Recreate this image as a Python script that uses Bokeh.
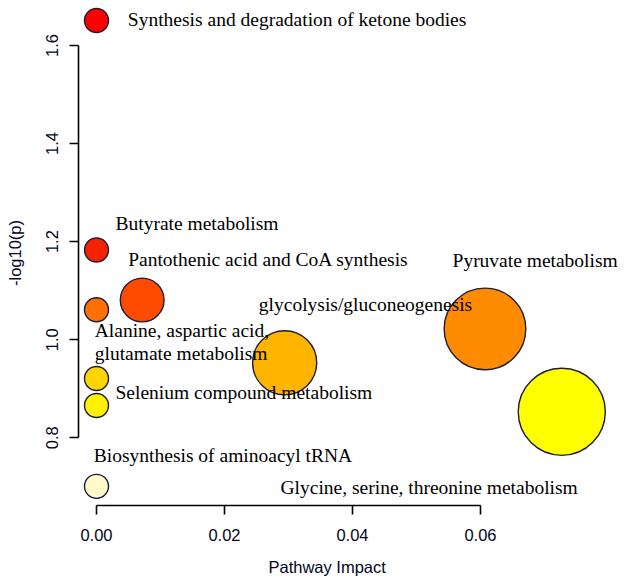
import math
from bokeh.plotting import figure
from bokeh.models import Range1d, FixedTicker, NumeralTickFormatter, ColumnDataSource, Title
from bokeh.core.properties import value
from bokeh.embed import file_html
from bokeh.resources import INLINE

# ---- data ----
pathways = [
    "Synthesis and degradation of ketone bodies",
    "Butyrate metabolism",
    "Pantothenic acid and CoA synthesis",
    "Alanine, aspartic acid and glutamate metabolism",
    "Pyruvate metabolism",
    "Glycolysis/Gluconeogenesis",
    "Unlabelled pathway",
    "Selenium compound metabolism",
    "Glycine, serine and threonine metabolism",
    "Aminoacyl-tRNA biosynthesis",
]
impact = [0.0, 0.0, 0.00714, 0.0, 0.0607, 0.0294, 0.0, 0.0, 0.0727, 0.0]
neg_log10_p = [1.651, 1.183, 1.081, 1.061, 1.022, 0.953, 0.921, 0.866, 0.853, 0.701]

# text labels as printed on the chart, with their anchor in data units
label_text = [
    "Synthesis and degradation of ketone bodies",
    "Butyrate metabolism",
    "Pantothenic acid and CoA synthesis",
    "Pyruvate metabolism",
    "glycolysis/gluconeogenesis",
    "Alanine, aspartic acid,\nglutamate metabolism",
    "Selenium compound metabolism",
    "Biosynthesis of aminoacyl tRNA",
    "Glycine, serine, threonine metabolism",
]
label_x = [0.00490, 0.00297, 0.00495, 0.05563, 0.02536, -0.00027, 0.00297, -0.00042, 0.02875]
label_y = [1.653, 1.2376, 1.163, 1.1616, 1.0719, 0.9948, 0.8918, 0.764, 0.6993]

x_ticks = [0.0, 0.02, 0.04, 0.06]
y_ticks = [0.8, 1.0, 1.2, 1.4, 1.6]

# ---- styles ----
fill_colors = ["#FF0000", "#F52200", "#FF4A00", "#FF7000", "#FF8C00",
               "#FFB400", "#FFD500", "#FFF200", "#FFFF00", "#FFFAC8"]
sizes = [2 * (12 + 117 * math.sqrt(v)) for v in impact]

src = ColumnDataSource(dict(x=impact, y=neg_log10_p, name=pathways,
                            color=fill_colors, size=sizes))
lsrc = ColumnDataSource(dict(x=label_x, y=label_y, t=label_text))

W, H = 624, 588
p = figure(width=W, height=H, output_backend="svg", toolbar_location=None,
           x_range=Range1d(-0.0028125, 0.0825), y_range=Range1d(0.66195, 1.69176),
           min_border_left=78, min_border_right=0, min_border_top=0, min_border_bottom=83)
p.xgrid.visible = False
p.ygrid.visible = False
p.outline_line_color = None
p.background_fill_color = "white"
p.border_fill_color = "white"

p.scatter("x", "y", source=src, size="size", fill_color="color",
          line_color="#1c1c3c", line_width=1.4)

p.text("x", "y", text="t", source=lsrc, text_font=value("Liberation Serif"),
       text_font_size="19.5px", text_color="black", text_align="left",
       text_baseline="middle", text_line_height=1.1)

for ax in (p.xaxis[0], p.yaxis[0]):
    ax.axis_line_width = 1.6
    ax.axis_line_color = "black"
    ax.major_tick_line_width = 1.6
    ax.major_tick_line_color = "black"
    ax.major_tick_out = 9
    ax.major_tick_in = 0
    ax.minor_tick_line_color = None
    ax.major_label_text_font = "Liberation Sans"
    ax.major_label_text_font_size = "16.5px"
    ax.major_label_text_color = "#05051e"
    ax.axis_label_text_font = "Liberation Sans"
    ax.axis_label_text_font_size = "16.5px"
    ax.axis_label_text_font_style = "normal"
    ax.axis_label_text_color = "#05051e"

p.xaxis.bounds = (0, 0.06)
p.yaxis.bounds = (0.8, 1.6)
p.xaxis.ticker = FixedTicker(ticks=x_ticks)
p.yaxis.ticker = FixedTicker(ticks=y_ticks)
p.xaxis.formatter = NumeralTickFormatter(format="0.00")
p.yaxis.formatter = NumeralTickFormatter(format="0.0")
p.yaxis.major_label_orientation = "vertical"
p.yaxis.axis_label = "-log10(p)"
p.xaxis.major_label_standoff = 14
p.yaxis.major_label_standoff = 11
p.yaxis.axis_label_standoff = 20

p.add_layout(Title(text="Pathway Impact", align="left", offset=190,
                   text_font="Liberation Sans", text_font_size="16.5px",
                   text_font_style="normal", text_color="#05051e", standoff=25), "below")

open("out.html", "w").write(file_html(p, INLINE))
